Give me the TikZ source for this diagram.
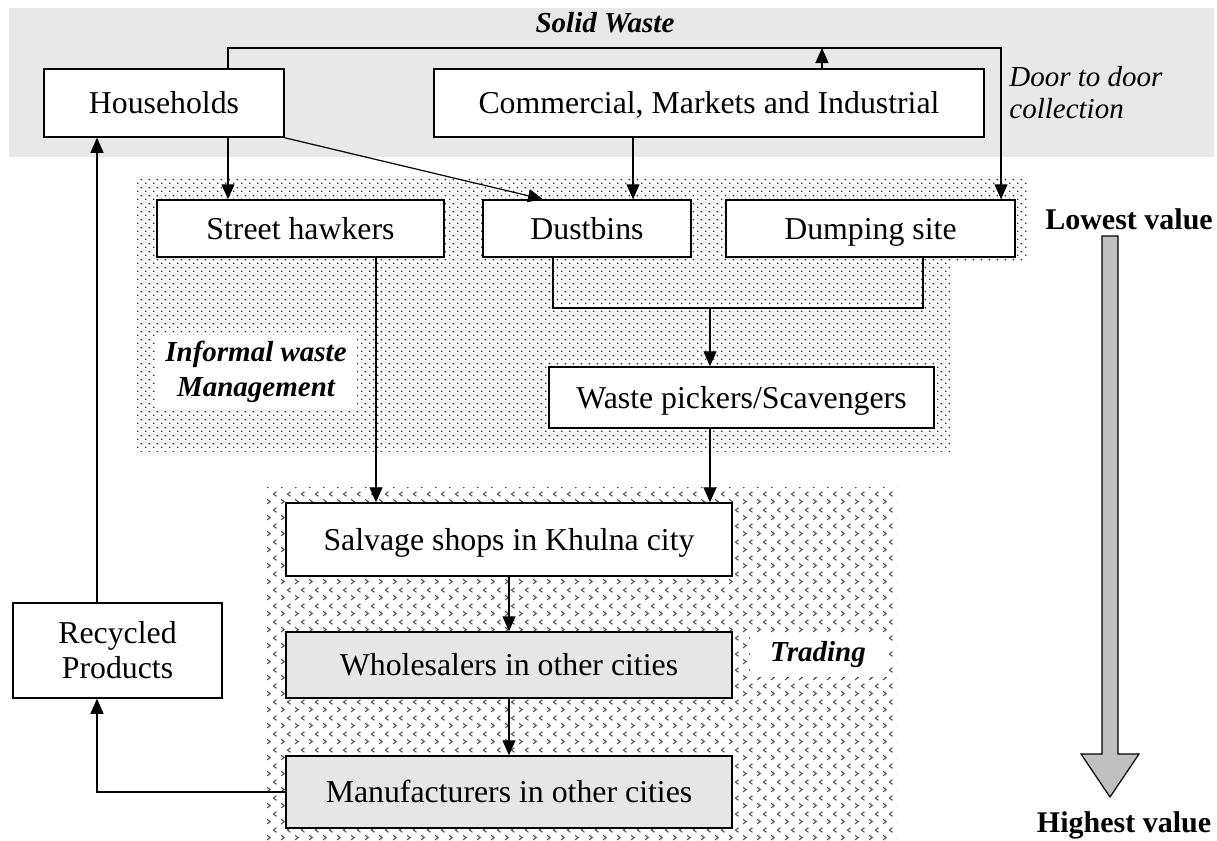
\documentclass[tikz,border=0pt]{standalone}
\usepackage{fontspec}
\setmainfont{Liberation Serif}
\usetikzlibrary{arrows.meta,patterns}
\definecolor{graybg}{HTML}{E8E8E8}
\definecolor{boxgray}{HTML}{E6E6E6}
\definecolor{arrowgray}{HTML}{C0C0C0}
\pgfdeclarepatternformonly{finedots}{\pgfqpoint{0pt}{0pt}}{\pgfqpoint{4pt}{4pt}}{\pgfqpoint{4pt}{4pt}}{%
  \pgfpathcircle{\pgfqpoint{1pt}{1pt}}{0.5pt}%
  \pgfpathcircle{\pgfqpoint{3pt}{3pt}}{0.5pt}%
  \pgfusepath{fill}}
\pgfdeclarepatternformonly{chevs}{\pgfqpoint{0pt}{0pt}}{\pgfqpoint{7pt}{8pt}}{\pgfqpoint{7pt}{8pt}}{%
  \pgfsetlinewidth{0.55pt}%
  \pgfpathmoveto{\pgfqpoint{0.6pt}{0.6pt}}\pgfpathlineto{\pgfqpoint{2.2pt}{1.8pt}}\pgfpathlineto{\pgfqpoint{0.6pt}{3pt}}%
  \pgfpathmoveto{\pgfqpoint{5.6pt}{4.6pt}}\pgfpathlineto{\pgfqpoint{4pt}{5.8pt}}\pgfpathlineto{\pgfqpoint{5.6pt}{7pt}}%
  \pgfusepath{stroke}}
\tikzset{
  box/.style={draw, line width=0.75pt, fill=white, font=\fontsize{15.9}{17.5}\selectfont, inner sep=0pt, align=center, text height=13.5pt, text depth=3pt},
  twoline/.style={text height=, text depth=},
  graybox/.style={box, fill=boxgray},
  arr/.style={-{Triangle[length=7.5pt,width=6.5pt]}, line width=0.6pt},
  ln/.style={line width=0.6pt},
  bilabel/.style={font=\fontsize{14.5}{17.5}\selectfont\bfseries\itshape, inner sep=0pt, align=center},
  bdlabel/.style={font=\fontsize{15}{17}\selectfont\bfseries, inner sep=0pt},
}
\begin{document}
\begin{tikzpicture}[x=0.5pt,y=-0.5pt]
\useasboundingbox (0,0) rectangle (1217,841);
% background regions
\fill[graybg] (9,8) rectangle (1214,157);
\fill[pattern=finedots, pattern color=black!85] (134,177) -- (1028,177) -- (1028,262) -- (950,262) -- (950,452) -- (134,452) -- cycle;
\fill[pattern=chevs, pattern color=black!70] (267,487) rectangle (897,840);
% region labels
\node[bilabel] (sw) at (605,23) {Solid Waste};
\node[bilabel, fill=white, minimum width=101pt, minimum height=36.5pt] (iw) at (256,371.5) {Informal waste\\Management};
\node[bilabel, fill=white, minimum width=68.5pt, minimum height=22pt] (tr) at (818,655) {Trading};
\node[anchor=west, align=left, inner sep=0pt, font=\fontsize{14.5}{16}\selectfont\itshape] (dd) at (1009,92.5) {Door to door\\collection};
% boxes
\node[box, minimum width=120pt, minimum height=34pt] (hh) at (164,103) {Households};
\node[box, minimum width=275pt, minimum height=34pt] (cm) at (709,103) {Commercial, Markets and Industrial};
\node[box, minimum width=143.5pt, minimum height=28.5pt] (sh) at (300.5,228.5) {Street hawkers};
\node[box, minimum width=104pt, minimum height=28.5pt] (db) at (587,228.5) {Dustbins};
\node[box, minimum width=144.5pt, minimum height=28.5pt] (ds) at (870.5,228.5) {Dumping site};
\node[box, minimum width=192.5pt, minimum height=30.5pt] (wp) at (741.5,397.5) {Waste pickers/Scavengers};
\node[box, minimum width=223pt, minimum height=36.5pt] (sv) at (509,539.5) {Salvage shops in Khulna city};
\node[graybox, minimum width=223pt, minimum height=33pt] (wh) at (509,665) {Wholesalers in other cities};
\node[graybox, minimum width=223pt, minimum height=36pt] (mf) at (509,792) {Manufacturers in other cities};
\node[box, twoline, minimum width=104.5pt, minimum height=47.5pt] (rp) at (117.5,650.5) {Recycled\\Products};
% helper coordinates
\coordinate (loopL) at (228,48);
\coordinate (loopR) at (1001,48);
\coordinate (upT) at (822,48);
\coordinate (diagE) at (543,0);
\coordinate (cmX) at (633,0);
\coordinate (brL) at (553,308);
\coordinate (brR) at (923,308);
\coordinate (brM) at (710,308);
\coordinate (shX) at (376,0);
\coordinate (rl) at (97,0);
% connectors
\draw[arr] (hh.north -| loopL) -- (loopL) -- (loopR) -- (ds.north -| loopR);
\draw[arr] (cm.north -| upT) -- (upT);
\draw[arr] (hh.south -| loopL) -- (sh.north -| loopL);
\draw[arr] (hh.south east) -- (db.north -| diagE);
\draw[arr] (cm.south -| cmX) -- (db.north -| cmX);
\draw[ln] (db.south -| brL) -- (brL) -- (brR) -- (ds.south -| brR);
\draw[arr] (brM) -- (wp.north -| brM);
\draw[arr] (sh.south -| shX) -- (sv.north -| shX);
\draw[arr] (wp.south -| brM) -- (sv.north -| brM);
\draw[arr] (sv.south) -- (wh.north);
\draw[arr] (wh.south) -- (mf.north);
\draw[arr] (mf.west) -| (rp.south -| rl);
\draw[arr] (rp.north -| rl) -- (hh.south -| rl);
% value arrow
\node[bdlabel] (lv) at (1129,219) {Lowest value};
\node[bdlabel] (hv) at (1124,825) {Highest value};
\draw[line width=0.6pt, fill=arrowgray] (1102,236) -- (1118,236) -- (1118,754) -- (1139,754) -- (1110,797) -- (1081,754) -- (1102,754) -- cycle;
\end{tikzpicture}
\end{document}
